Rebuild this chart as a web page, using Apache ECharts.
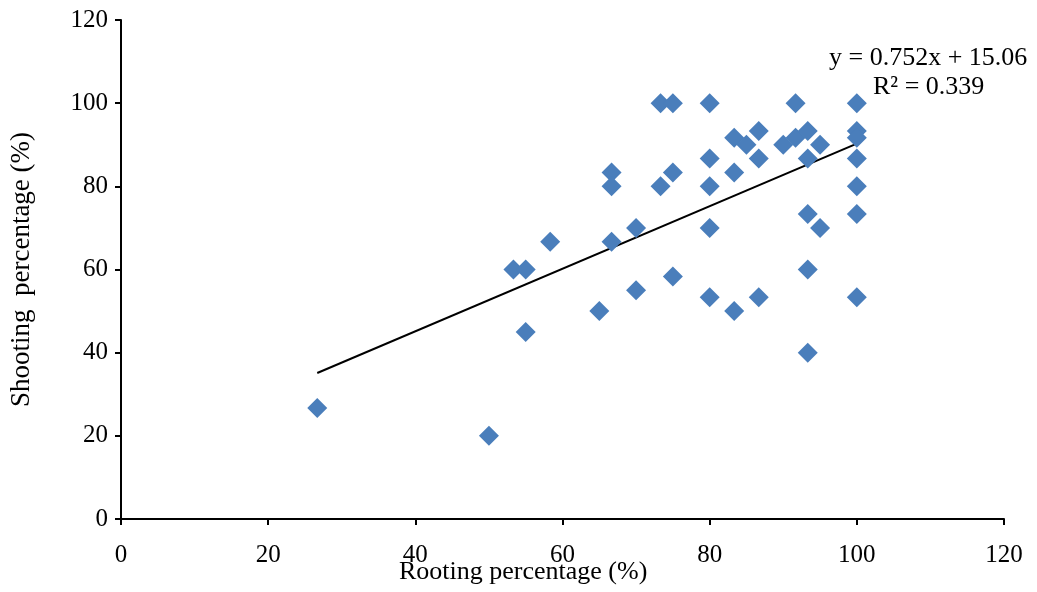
<!DOCTYPE html>
<html>
<head>
    <meta charset="UTF-8">
    <title>Rooting vs shooting percentage</title>
<script src="https://cdn.jsdelivr.net/npm/echarts@6/dist/echarts.min.js"></script>
<style>
    html, body { margin: 0; padding: 0; background: #fff; }
</style>
</head>

<body>
    <div id="main" style="width: 1037px;height:592px;"></div>
    <script type="text/javascript">
        // rooting percentage (x) and shooting percentage (y)
        var rooting = [26.67, 50, 53.33, 55, 55, 58.33, 65, 66.67, 66.67, 66.67,
            70, 70, 73.33, 75, 73.33, 75, 75, 80, 80, 80,
            80, 80, 83.33, 83.33, 83.33, 85, 86.67, 86.67, 86.67, 90,
            91.67, 91.67, 93.33, 93.33, 95, 93.33, 95, 93.33, 93.33, 100,
            100, 100, 100, 100, 100, 100];
        var shooting = [26.67, 20, 60, 60, 45, 66.67, 50, 83.33, 80, 66.67,
            70, 55, 100, 100, 80, 83.33, 58.33, 100, 86.67, 80,
            70, 53.33, 91.67, 83.33, 50, 90, 93.33, 86.67, 53.33, 90,
            100, 91.67, 93.33, 86.67, 90, 73.33, 70, 60, 40, 100,
            93.33, 91.67, 86.67, 80, 73.33, 53.33];
        var axisTicks = [0, 20, 40, 60, 80, 100, 120];
        var slope = 0.752;
        var intercept = 15.06;
        var r2 = 0.339;

        var points = rooting.map(function (x, i) { return [x, shooting[i]]; });
        var xMin = Math.min.apply(null, rooting);
        var xMax = Math.max.apply(null, rooting);
        var trend = [[xMin, slope * xMin + intercept], [xMax, slope * xMax + intercept]];

        var font = '"Liberation Serif", "Times New Roman", serif';
        var myChart = echarts.init(document.getElementById('main'));
        var axisCommon = {
            type: 'value',
            min: axisTicks[0],
            max: axisTicks[axisTicks.length - 1],
            interval: axisTicks[1] - axisTicks[0],
            splitLine: { show: false },
            axisLine: { show: true, onZero: false, lineStyle: { color: '#000', width: 2 } },
            axisTick: { show: true, inside: false, length: 6, lineStyle: { color: '#000', width: 2 } },
            axisLabel: { color: '#000', fontFamily: font, fontSize: 25 }
        };
        var option = {
            backgroundColor: '#fff',
            animation: false,
            grid: { left: 121, right: 33, top: 20, bottom: 73, containLabel: false },
            xAxis: echarts.util.merge({
                axisLabel: { margin: 24 }
            }, axisCommon, true),
            yAxis: echarts.util.merge({
                name: 'Shooting  percentage (%)',
                nameLocation: 'middle',
                nameGap: 86,
                nameTextStyle: { color: '#000', fontFamily: font, fontSize: 27 },
                axisLabel: { margin: 13 }
            }, axisCommon, true),
            graphic: [
                {
                    type: 'text', left: 399, top: 559,
                    style: { text: 'Rooting percentage (%)', fill: '#000', font: '26px ' + font }
                },
                {
                    type: 'text', left: 829, top: 45,
                    style: { text: 'y = ' + slope + 'x + ' + intercept.toFixed(2), fill: '#000', font: '26px ' + font }
                },
                {
                    type: 'text', left: 873, top: 74,
                    style: { text: 'R² = ' + r2, fill: '#000', font: '26px ' + font }
                }
            ],
            series: [
                {
                    type: 'line',
                    data: trend,
                    symbol: 'none',
                    lineStyle: { color: '#000', width: 2 },
                    z: 1
                },
                {
                    type: 'scatter',
                    data: points,
                    symbol: 'diamond',
                    symbolSize: 20,
                    itemStyle: { color: '#4a7ebb', opacity: 1 },
                    z: 2
                }
            ]
        };
        myChart.setOption(option);
    </script>
</body>
</html>
